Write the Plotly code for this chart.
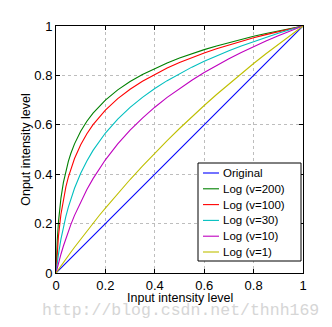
import plotly.graph_objects as go

r = [0, 0.002, 0.005, 0.01, 0.02, 0.03, 0.04, 0.05, 0.06, 0.075, 0.1, 0.125, 0.15, 0.175, 0.2,
     0.25, 0.3, 0.35, 0.4, 0.45, 0.5, 0.55, 0.6, 0.65, 0.7, 0.75, 0.8, 0.85, 0.9, 0.95, 1.0]

original = list(r)
log_v200 = [0, .0634, .1307, .2072, .3035, .3669, .4143, .4522, .4837, .5228, .5741, .6144, .6475, .6757, .7003,
            .7414, .7752, .8038, .8286, .8506, .8702, .8880, .9043, .9193, .9332, .9461, .9582, .9695, .9802, .9904, 1]
log_v100 = [0, .0395, .0879, .1502, .2380, .3004, .3487, .3882, .4216, .4637, .5196, .5640, .6008, .6322, .6597,
            .7060, .7441, .7765, .8047, .8296, .8519, .8722, .8907, .9078, .9236, .9384, .9522, .9652, .9774, .9890, 1]
log_v30 = [0, .0170, .0407, .0764, .1369, .1869, .2296, .2668, .2998, .3432, .4037, .4537, .4964, .5337, .5667,
           .6232, .6705, .7112, .7469, .7787, .8074, .8335, .8574, .8796, .9001, .9193, .9374, .9543, .9704, .9856, 1]
log_v10 = [0, .0083, .0203, .0397, .0760, .1094, .1403, .1691, .1960, .2334, .2891, .3382, .3821, .4219, .4582,
           .5224, .5781, .6273, .6712, .7109, .7472, .7806, .8115, .8403, .8672, .8925, .9163, .9389, .9602, .9806, 1]
log_v1 = [0, .0029, .0072, .0144, .0286, .0426, .0566, .0704, .0841, .1043, .1375, .1699, .2016, .2327, .2630,
          .3219, .3785, .4330, .4854, .5361, .5850, .6323, .6781, .7225, .7655, .8074, .8480, .8875, .9260, .9635, 1]

names = ["Original", "Log (v=200)", "Log (v=100)", "Log (v=30)", "Log (v=10)", "Log (v=1)"]
series = [original, log_v200, log_v100, log_v30, log_v10, log_v1]
colors = ["#0000ff", "#008000", "#ff0000", "#00bfbf", "#bf00bf", "#bfbf00"]

tick_vals = [0, 0.2, 0.4, 0.6, 0.8, 1]
tick_text = ["0", "0.2", "0.4", "0.6", "0.8", "1"]

FONT = "Liberation Sans, Arial, sans-serif"

W, H = 332, 327
ML, MR, MT, MB = 56, 29, 26, 54
PW, PH = W - ML - MR, H - MT - MB


def px2x(px):
    return (px - ML) / PW


def px2y(py):
    return (H - MB - py) / PH


fig = go.Figure()
for n, s, c in zip(names, series, colors):
    fig.add_trace(go.Scatter(x=r, y=s, mode="lines", name=n, showlegend=False,
                             line=dict(color=c, width=1.1)))

axis_common = dict(
    range=[0, 1], tickvals=tick_vals, ticktext=tick_text,
    showgrid=True, gridcolor="#bdbdbd", griddash="dot", gridwidth=1,
    showline=True, linecolor="black", linewidth=1, mirror="ticks",
    ticks="inside", ticklen=4, tickcolor="black",
    zeroline=False, tickfont=dict(family=FONT, size=13, color="black"),
)

fig.update_xaxes(**axis_common)
fig.update_yaxes(**axis_common,
                 title=dict(text="Onput intensity level", standoff=0,
                            font=dict(family=FONT, size=12.5, color="black")))

# x-axis title
fig.add_annotation(text="Input intensity level", xref="paper", yref="paper",
                   x=0.5, y=px2y(297.5), xanchor="center", yanchor="middle", showarrow=False,
                   font=dict(family=FONT, size=12.5, color="black"))

# Legend box (drawn manually to match the compact MATLAB legend)
box_l, box_r, box_t, box_b = 198, 301, 163, 261
row0, row_step = 173, 15.8
fig.add_shape(type="rect", xref="paper", yref="paper",
              x0=px2x(box_l), x1=px2x(box_r), y0=px2y(box_b), y1=px2y(box_t),
              line=dict(color="black", width=1), fillcolor="white", layer="above")
for i, (n, c) in enumerate(zip(names, colors)):
    yc = row0 + i * row_step
    fig.add_shape(type="line", xref="paper", yref="paper",
                  x0=px2x(203), x1=px2x(219), y0=px2y(yc), y1=px2y(yc),
                  line=dict(color=c, width=1.1), layer="above")
    fig.add_annotation(text=n, xref="paper", yref="paper", x=px2x(221), y=px2y(yc),
                       xanchor="left", yanchor="middle", showarrow=False,
                       font=dict(family=FONT, size=11.5, color="black"))

fig.add_annotation(text="http://blog.csdn.net/thnh169", xref="paper", yref="paper",
                   x=px2x(321), y=px2y(310), xanchor="right", yanchor="middle", showarrow=False,
                   font=dict(family="Liberation Mono, DejaVu Serif, serif", size=16.5, color="#d6d6d6"))

fig.update_layout(
    width=W, height=H,
    margin=dict(l=ML, r=MR, t=MT, b=MB),
    paper_bgcolor="white", plot_bgcolor="white",
    showlegend=False,
)

fig.write_html("out.html")
